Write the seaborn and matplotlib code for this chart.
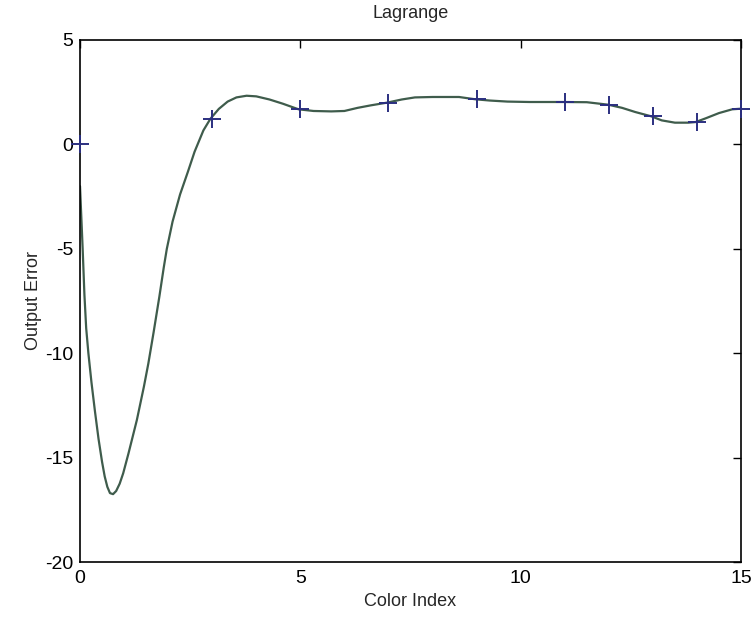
import matplotlib
matplotlib.use("Agg")
import matplotlib.pyplot as plt
import seaborn as sns
import pandas as pd

# curve (Lagrange interpolant)
curve_x = [0.00, 0.03, 0.06, 0.10, 0.14, 0.19, 0.26, 0.34, 0.42, 0.50, 0.56, 0.62,
           0.68, 0.75, 0.82, 0.90, 0.98, 1.10, 1.29, 1.45, 1.55, 1.67, 1.80, 1.90,
           1.97, 2.10, 2.27, 2.45, 2.60, 2.80, 2.96, 3.15, 3.35, 3.55, 3.78, 4.00,
           4.30, 4.60, 4.96, 5.30, 5.70, 6.00, 6.30, 6.60, 6.97, 7.30, 7.60, 8.00,
           8.60, 8.97, 9.30, 9.70, 10.20, 10.95, 11.50, 11.99, 12.30, 12.60, 12.97,
           13.20, 13.50, 13.80, 13.97, 14.20, 14.50, 14.80, 15.00]
curve_y = [-2.0, -3.5, -5.0, -7.2, -8.8, -10.0, -11.4, -12.8, -14.1, -15.2, -15.9, -16.4,
           -16.7, -16.75, -16.6, -16.25, -15.75, -14.8, -13.2, -11.6, -10.5, -9.0, -7.3, -5.9,
           -5.0, -3.7, -2.4, -1.3, -0.35, 0.67, 1.23, 1.70, 2.05, 2.25, 2.33, 2.30,
           2.15, 1.95, 1.68, 1.60, 1.58, 1.60, 1.75, 1.87, 2.00, 2.15, 2.25, 2.27,
           2.27, 2.16, 2.10, 2.05, 2.03, 2.03, 2.02, 1.90, 1.75, 1.55, 1.34,
           1.15, 1.04, 1.04, 1.07, 1.25, 1.50, 1.68, 1.71]

# sample points (+ markers)
point_x = [0, 3, 5, 7, 9, 11, 12, 13, 14, 15]
point_y = [0.0, 1.23, 1.68, 2.00, 2.16, 2.03, 1.90, 1.34, 1.07, 1.71]

x_ticks = [0, 5, 10, 15]
y_ticks = [-20, -15, -10, -5, 0, 5]

sns.set_style("white")
plt.rcParams["font.family"] = ["Liberation Sans", "DejaVu Sans"]
plt.rcParams["axes.unicode_minus"] = False

curve = pd.DataFrame({"x": curve_x, "y": curve_y})
points = pd.DataFrame({"x": point_x, "y": point_y})

fig = plt.figure(figsize=(7.52, 6.18), dpi=100)
ax = fig.add_axes([0.1064, 0.0906, 0.8790, 0.8447])

sns.lineplot(data=curve, x="x", y="y", sort=False, estimator=None,
             color="#3f5c4c", lw=1.6, ax=ax)
sns.scatterplot(data=points, x="x", y="y", marker="+", s=170, linewidth=1.4,
                color="#2b2f80", clip_on=False, zorder=5, ax=ax)

ax.set_xlim(0, 15)
ax.set_ylim(-20, 5)
ax.set_xticks(x_ticks)
ax.set_yticks(y_ticks)
ax.tick_params(direction="in", length=6, width=1, labelsize=14,
               top=True, right=True, colors="black")
ax.tick_params(axis="x", pad=6)
ax.tick_params(axis="y", pad=5)
for s in ax.spines.values():
    s.set_color("black")
    s.set_linewidth(1.2)

ax.set_title("Lagrange", fontsize=13, pad=16)
ax.set_xlabel("Color Index", fontsize=13, labelpad=4)
ax.set_ylabel("Output Error", fontsize=13, labelpad=2)

fig.savefig("out.png", dpi=100)
